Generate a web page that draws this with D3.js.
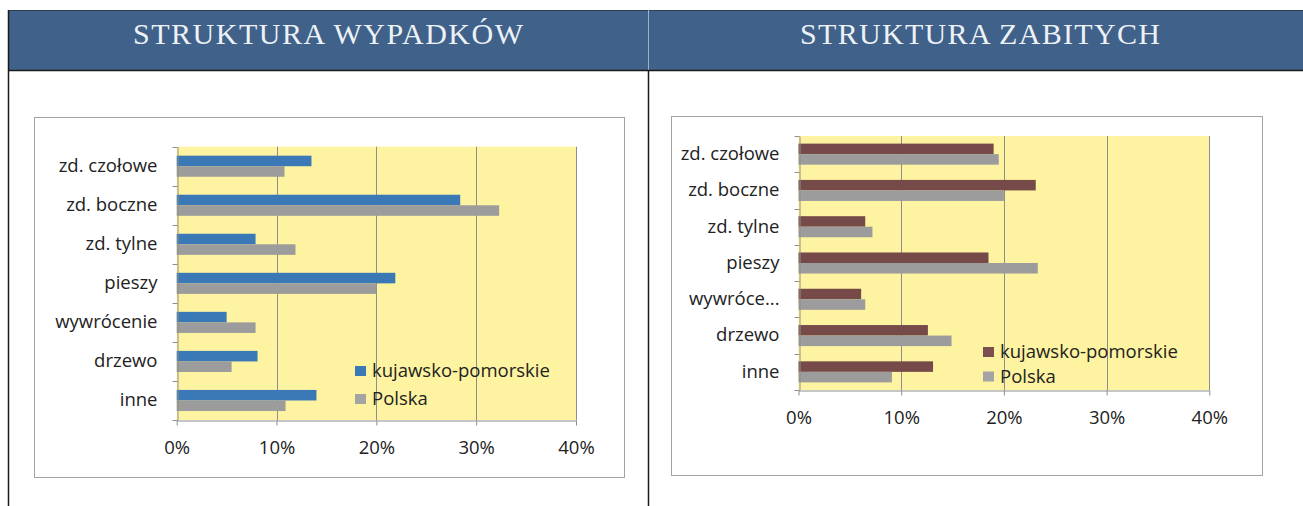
<!DOCTYPE html>
<html>
<head>
<meta charset="utf-8">
<script src="https://cdn.jsdelivr.net/npm/d3@7"></script>
<style>
  body { margin: 0; background: #fff; }
  svg { display: block; }
  text { font-family: "Open Sans", "Noto Sans", sans-serif; fill: #222; }
  .title { font-family: "Liberation Serif", "DejaVu Serif", serif; fill: #eef2f6; }
</style>
</head>
<body>
<div id="chart"></div>
<script>
'use strict';

// dane (%)
var categories = ['zd. czołowe', 'zd. boczne', 'zd. tylne', 'pieszy', 'wywrócenie', 'drzewo', 'inne'];
var categoryLabelsZabici = ['zd. czołowe', 'zd. boczne', 'zd. tylne', 'pieszy', 'wywróce...', 'drzewo', 'inne'];
var seriesNames = ['kujawsko-pomorskie', 'Polska'];
var wypadkiKujawsko = [13.5, 28.4, 7.9, 21.9, 5.0, 8.1, 14.0];
var wypadkiPolska = [10.8, 32.3, 11.9, 20.0, 7.9, 5.5, 10.9];
var zabiciKujawsko = [19.0, 23.1, 6.5, 18.5, 6.1, 12.6, 13.1];
var zabiciPolska = [19.5, 20.0, 7.2, 23.3, 6.5, 14.9, 9.1];
var xTicks = [0, 10, 20, 30, 40];
var titles = ['STRUKTURA WYPADKÓW', 'STRUKTURA ZABITYCH'];

var W = 1303, H = 506;
var FS = 18.5;
var svg = d3.select('#chart').append('svg').attr('width', W).attr('height', H);

// naglowki
svg.append('rect').attr('x', 8).attr('y', 10).attr('width', W - 8).attr('height', 60).attr('fill', '#40628a');
svg.append('line').attr('x1', 8).attr('x2', W).attr('y1', 10.5).attr('y2', 10.5).attr('stroke', '#2c3e52').attr('stroke-width', 1);
svg.append('line').attr('x1', 648.5).attr('x2', 648.5).attr('y1', 10).attr('y2', 70).attr('stroke', '#9fb0c4').attr('stroke-width', 1);
svg.append('line').attr('x1', 8).attr('x2', W).attr('y1', 70.5).attr('y2', 70.5).attr('stroke', '#1a1a1a').attr('stroke-width', 1.5);
svg.append('line').attr('x1', 8.5).attr('x2', 8.5).attr('y1', 10).attr('y2', H).attr('stroke', '#1a1a1a').attr('stroke-width', 1.5);
svg.append('line').attr('x1', 648.5).attr('x2', 648.5).attr('y1', 70).attr('y2', H).attr('stroke', '#1a1a1a').attr('stroke-width', 1.5);

svg.append('text').attr('class', 'title').attr('x', 328).attr('y', 44)
  .attr('text-anchor', 'middle').attr('font-size', 30)
  .attr('textLength', 390).attr('lengthAdjust', 'spacing').text(titles[0]);
svg.append('text').attr('class', 'title').attr('x', 980).attr('y', 44)
  .attr('text-anchor', 'middle').attr('font-size', 30)
  .attr('textLength', 360).attr('lengthAdjust', 'spacing').text(titles[1]);

function drawPanel(setup) {
  var g = svg.append('g');

  // ramka wykresu
  g.append('rect')
    .attr('x', setup.frame.x + 0.5).attr('y', setup.frame.y + 0.5)
    .attr('width', setup.frame.w).attr('height', setup.frame.h)
    .attr('fill', '#fff').attr('stroke', '#a3a3a3').attr('stroke-width', 1);

  var x = d3.scaleLinear().domain([0, 40]).range([setup.plot.left, setup.plot.right]);
  var y = d3.scaleBand().domain(categories).range([setup.plot.top, setup.plot.bottom])
    .paddingInner(setup.padding).paddingOuter(setup.padding / 2);
  var ys = d3.scaleBand().domain(seriesNames).range([0, y.bandwidth()]);

  g.append('rect')
    .attr('x', x(0)).attr('y', setup.plot.top)
    .attr('width', x(40) - x(0)).attr('height', setup.plot.bottom - setup.plot.top)
    .attr('fill', '#fdf3a0');

  // linie siatki
  g.selectAll('.grid').data(xTicks.slice(1)).enter().append('line')
    .attr('class', 'grid')
    .attr('x1', function(d) { return Math.round(x(d)) + 0.5; })
    .attr('x2', function(d) { return Math.round(x(d)) + 0.5; })
    .attr('y1', setup.plot.top).attr('y2', setup.plot.bottom)
    .attr('stroke', '#8e8e8e').attr('stroke-width', 1);

  // slupki
  var rows = categories.map(function(c, i) {
    return { cat: c, values: [setup.series[0][i], setup.series[1][i]] };
  });
  var groups = g.selectAll('.row').data(rows).enter().append('g')
    .attr('class', 'row')
    .attr('transform', function(d) { return 'translate(0,' + y(d.cat) + ')'; });
  groups.selectAll('rect').data(function(d) {
      return d.values.map(function(v, j) { return { name: seriesNames[j], v: v, j: j }; });
    }).enter().append('rect')
    .attr('x', x(0))
    .attr('y', function(d) { return ys(d.name); })
    .attr('width', function(d) { return x(d.v) - x(0); })
    .attr('height', ys.bandwidth())
    .attr('fill', function(d) { return setup.colors[d.j]; });

  // os kategorii
  var yAxis = d3.axisLeft(y).tickSizeInner(0).tickSizeOuter(0).tickPadding(20)
    .tickFormat(function(d) { return setup.labels[categories.indexOf(d)]; });
  var yg = g.append('g').attr('transform', 'translate(' + (Math.round(x(0)) + 0.5) + ',0)').call(yAxis);
  yg.select('.domain').attr('stroke', '#8e8e8e');
  yg.selectAll('text').attr('font-size', FS).attr('fill', '#222')
    .attr('font-family', '"Open Sans", sans-serif');
  var bounds = categories.map(function(c) { return y(c) - (y.step() - y.bandwidth()) / 2; });
  bounds.push(setup.plot.bottom);
  yg.selectAll('.bound').data(bounds).enter().append('line')
    .attr('class', 'bound')
    .attr('x1', -5).attr('x2', 0)
    .attr('y1', function(d) { return Math.round(d) + 0.5; })
    .attr('y2', function(d) { return Math.round(d) + 0.5; })
    .attr('stroke', '#8e8e8e');

  // os wartosci
  var xAxis = d3.axisBottom(x).tickValues(xTicks).tickSizeInner(5).tickSizeOuter(0).tickPadding(15)
    .tickFormat(function(d) { return d + '%'; });
  var xg = g.append('g').attr('transform', 'translate(0,' + (Math.round(setup.plot.bottom) + 0.5) + ')').call(xAxis);
  xg.select('.domain').attr('stroke', '#8e8e8e');
  xg.selectAll('.tick line').attr('stroke', '#8e8e8e');
  xg.selectAll('text').attr('font-size', FS).attr('fill', '#222')
    .attr('font-family', '"Open Sans", sans-serif');

  // legenda
  var legend = g.selectAll('.legend').data(seriesNames).enter().append('g')
    .attr('class', 'legend')
    .attr('transform', function(d, i) {
      return 'translate(' + setup.legend.x + ',' + (setup.legend.y + i * setup.legend.gap) + ')';
    });
  legend.append('rect')
    .attr('x', 0).attr('y', -5).attr('width', 11).attr('height', 10)
    .attr('fill', function(d, i) { return setup.legendColors[i]; });
  legend.append('text')
    .attr('x', 17).attr('y', 0).attr('dy', '0.35em')
    .attr('font-size', FS)
    .text(function(d) { return d; });
}

drawPanel({
  frame: { x: 34, y: 117, w: 590, h: 360 },
  plot: { left: 176.7, right: 576, top: 146.7, bottom: 420 },
  padding: 0.46,
  series: [wypadkiKujawsko, wypadkiPolska],
  labels: categories,
  colors: ['#3a79b5', '#9c9c9c'],
  legendColors: ['#3a79b5', '#a4a4a4'],
  legend: { x: 355, y: 371, gap: 28 }
});

drawPanel({
  frame: { x: 671, y: 116, w: 591, h: 359 },
  plot: { left: 798.5, right: 1209.3, top: 136, bottom: 390 },
  padding: 0.42,
  series: [zabiciKujawsko, zabiciPolska],
  labels: categoryLabelsZabici,
  colors: ['#774a4a', '#9c9c9c'],
  legendColors: ['#7a5050', '#a4a4a4'],
  legend: { x: 983, y: 352, gap: 24.5 }
});
</script>
</body>
</html>
